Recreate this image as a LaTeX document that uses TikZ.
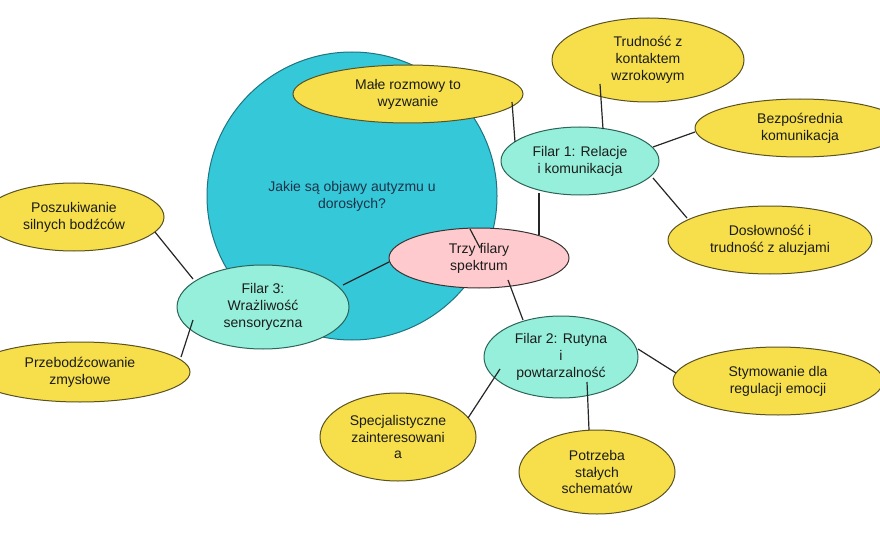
\documentclass[tikz,border=0pt]{standalone}
\usepackage{fontspec}
\setmainfont{Liberation Sans}
\usetikzlibrary{shapes.geometric,calc}
\definecolor{cyanc}{HTML}{35C8D8}
\definecolor{cyanb}{HTML}{1E7480}
\definecolor{yel}{HTML}{F6DF4A}
\definecolor{yelb}{HTML}{5A5222}
\definecolor{mint}{HTML}{95EFDA}
\definecolor{mintb}{HTML}{2C6458}
\definecolor{pinkc}{HTML}{FECACD}
\definecolor{pinkb}{HTML}{3A3333}
\definecolor{txt}{HTML}{1C1C1C}
\definecolor{qtxt}{HTML}{1D3348}
\definecolor{lin}{HTML}{262626}
\tikzset{
  bubble/.style={ellipse, inner sep=0pt, align=center, text=txt,
    font=\fontsize{14}{16.8}\selectfont, line width=1pt},
  yelnode/.style={bubble, fill=yel, draw=yelb},
  mintnode/.style={bubble, fill=mint, draw=mintb},
  pinknode/.style={bubble, fill=pinkc, draw=pinkb},
  bignode/.style={bubble, fill=cyanc, draw=cyanb, text=qtxt},
  conn/.style={draw=lin, line width=1.2pt}
}
\begin{document}
\begin{tikzpicture}[x=1pt,y=-1pt]
\useasboundingbox (0,0) rectangle (880,540);
\fill[white] (0,0) rectangle (880,540);
\clip (0,0) rectangle (880,540);
\node[bignode, minimum width=290pt, minimum height=288pt] (circ) at (352,196) {Jakie są objawy autyzmu u\\dorosłych?};
\node[yelnode, minimum width=230pt, minimum height=58pt] (male) at (408,94) {Małe rozmowy to\\wyzwanie};
\node[pinknode, minimum width=180pt, minimum height=60pt] (trzy) at (479,258) {Trzy filary\\spektrum};
\node[mintnode, minimum width=158pt, minimum height=68pt] (f1) at (580,161) {Filar 1: Relacje\\i komunikacja};
\node[yelnode, minimum width=192pt, minimum height=84pt] (trud) at (648,60) {Trudność z\\kontaktem\\wzrokowym};
\node[yelnode, minimum width=210pt, minimum height=58pt] (bezp) at (800,128) {Bezpośrednia\\komunikacja};
\node[yelnode, minimum width=204pt, minimum height=68pt] (dosl) at (770,240) {Dosłowność i\\trudność z aluzjami};
\node[mintnode, minimum width=172pt, minimum height=84pt] (f3) at (263,307) {Filar 3:\\Wrażliwość\\sensoryczna};
\node[yelnode, minimum width=180pt, minimum height=68pt] (posz) at (74,217) {Poszukiwanie\\silnych bodźców};
\node[yelnode, minimum width=220pt, minimum height=60pt] (przb) at (80,372) {Przebodźcowanie\\zmysłowe};
\node[mintnode, minimum width=154pt, minimum height=82pt] (f2) at (561,357) {Filar 2: Rutyna\\i\\powtarzalność};
\node[yelnode, minimum width=210pt, minimum height=68pt] (stym) at (778,381) {Stymowanie dla\\regulacji emocji};
\node[yelnode, minimum width=156pt, minimum height=84pt] (potr) at (597,472) {Potrzeba\\stałych\\schematów};
\node[yelnode, minimum width=156pt, minimum height=88pt] (spec) at (398,437) {Specjalistyczne\\zainteresowani\\a};
% connectors
\draw[conn] ($(male.center)+(104,8)$) -- ($(f1.center)+(-65,-19)$);
\draw[conn] ($(trud.center)+(-48,24)$) -- ($(f1.center)+(23,-32)$);
\draw[conn] ($(f1.center)+(73,-14)$) -- ($(bezp.center)+(-105,4)$);
\draw[conn] ($(f1.center)+(73,17)$) -- ($(dosl.center)+(-83,-22)$);
\draw[conn] ($(trzy.center)+(60,-23)$) -- ($(f1.center)+(-41,32)$);
\draw[conn] ($(circ.center)+(118,33)$) -- ($(trzy.center)+(1,-10)$);
\draw[conn] ($(trzy.center)+(-90,4)$) -- ($(f3.center)+(80,-22)$);
\draw[conn] ($(trzy.center)+(29,22)$) -- ($(f2.center)+(-38,-37)$);
\draw[conn] ($(f3.center)+(-70,-28)$) -- ($(posz.center)+(81,15)$);
\draw[conn] ($(f3.center)+(-70,13)$) -- ($(przb.center)+(101,-15)$);
\draw[conn] ($(f2.center)+(77,-8)$) -- ($(stym.center)+(-102,-8)$);
\draw[conn] ($(f2.center)+(26,25)$) -- ($(potr.center)+(-8,-42)$);
\draw[conn] ($(f2.center)+(-61,12)$) -- ($(spec.center)+(70,-19)$);
\end{tikzpicture}
\end{document}
